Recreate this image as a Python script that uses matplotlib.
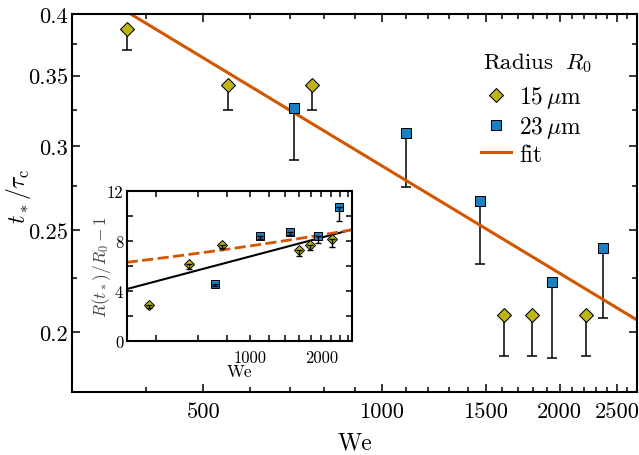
import numpy as np
import matplotlib
matplotlib.use("Agg")
import matplotlib.pyplot as plt
from matplotlib.ticker import FixedLocator, FixedFormatter, NullFormatter
from matplotlib.lines import Line2D

plt.rcParams["font.family"] = "serif"
plt.rcParams["font.serif"] = ["cmr10", "DejaVu Serif"]
plt.rcParams["mathtext.fontset"] = "cm"
plt.rcParams["axes.unicode_minus"] = False

# Main panel data: t_* / tau_c versus We
we_15 = [371, 550, 762, 1609, 1793, 2218]
t_15 = [0.3876, 0.3428, 0.3428, 0.2078, 0.2078, 0.2078]
t_15_err = [0.0178, 0.018, 0.018, 0.0179, 0.0179, 0.0179]

we_23 = [711, 1098, 1465, 1940, 2366]
t_23 = [0.3258, 0.3088, 0.266, 0.2232, 0.2402]
t_23_err = [0.0344, 0.0341, 0.034, 0.0341, 0.0341]

# power-law fit t = A * We^p
fit_prefactor = 2.99
fit_exponent = -0.339

# Inset data: R(t_*)/R_0 - 1
r_15 = [2.93, 6.21, 7.7, 7.3, 7.7, 8.16]
r_15_err = [0.3, 0.4, 0.2, 0.5, 0.4, 0.6]
r_23 = [4.6, 8.4, 8.72, 8.4, 10.72]
r_23_err = [0.2, 0.2, 0.2, 0.5, 1.1]

# inset model curves
solid_a, solid_b = 4.18, 5.0       # a + b*log10(We/300)
dashed_a, dashed_p = 6.32, 0.157   # a * (We/300)^p

x_major = [500, 1000, 1500, 2000, 2500]
x_minor = [300, 400, 600, 700, 800, 900, 1100, 1200, 1300, 1400, 1600, 1700,
           1800, 1900, 2100, 2200, 2300, 2400, 2600, 2700]
y_major = [0.2, 0.25, 0.3, 0.35, 0.4]
y_labels = ["0.2", "0.25", "0.3", "0.35", "0.4"]
y_minor = [0.175, 0.225, 0.275, 0.325, 0.375]

inset_x_major = [1000, 2000]
inset_x_minor = [400, 600, 800, 1200, 1400, 1600, 1800, 2200, 2400, 2600]

c_15 = "#bdb511"
c_23 = "#1b80c1"
c_fit = "#d45500"

fig = plt.figure(figsize=(6.39, 4.56), dpi=100)
ax = fig.add_axes([0.1127, 0.1382, 0.8842, 0.8282])

# main plot
ax.errorbar(we_15, t_15, yerr=[t_15_err, [0] * len(t_15)], fmt="none",
            ecolor="black", elinewidth=1.1, capsize=3.5, capthick=1.1, zorder=2)
ax.errorbar(we_23, t_23, yerr=[t_23_err, [0] * len(t_23)], fmt="none",
            ecolor="black", elinewidth=1.1, capsize=3.5, capthick=1.1, zorder=2)
ax.plot(we_15, t_15, "D", ms=6.8, mfc=c_15, mec="black", mew=0.75, zorder=3)
ax.plot(we_23, t_23, "s", ms=7.2, mfc=c_23, mec="black", mew=0.75, zorder=3)

we_fit = np.geomspace(300, 2700, 100)
ax.plot(we_fit, fit_prefactor * we_fit ** fit_exponent, color=c_fit, lw=2.2, zorder=2)

ax.set_xscale("log")
ax.set_yscale("log")
ax.set_xlim(300, 2700)
ax.set_ylim(0.1755, 0.4)
ax.xaxis.set_major_locator(FixedLocator(x_major))
ax.xaxis.set_major_formatter(FixedFormatter([str(v) for v in x_major]))
ax.xaxis.set_minor_locator(FixedLocator(x_minor))
ax.xaxis.set_minor_formatter(NullFormatter())
ax.yaxis.set_major_locator(FixedLocator(y_major))
ax.yaxis.set_major_formatter(FixedFormatter(y_labels))
ax.yaxis.set_minor_locator(FixedLocator(y_minor))
ax.yaxis.set_minor_formatter(NullFormatter())
ax.tick_params(which="both", direction="in", top=True, right=True, width=1.1,
               labelsize=16.2)
ax.tick_params(which="major", length=6)
ax.tick_params(which="minor", length=3.6)
ax.tick_params(axis="x", pad=7)
ax.tick_params(axis="y", pad=3)
for s in ax.spines.values():
    s.set_linewidth(1.5)
ax.set_xlabel("We", fontsize=17, labelpad=7)
ax.set_ylabel(r"$t_*/\tau_\mathrm{c}$", fontsize=17)
ax.yaxis.set_label_coords(-0.069, 0.52)

# legend: title drawn as its own text for tighter control of spacing
fig.text(0.756, 0.8607, r"Radius $\;R_0$", fontsize=16.5, ha="left", va="center")
handles = [
    Line2D([], [], ls="none", marker="D", ms=6.8, mfc=c_15, mec="black", mew=0.75),
    Line2D([], [], ls="none", marker="s", ms=7.2, mfc=c_23, mec="black", mew=0.75),
    Line2D([], [], color=c_fit, lw=2.2),
]
leg = ax.legend(handles, [r"15$\,\mu$m", r"23$\,\mu$m", "fit"],
                loc="upper left", bbox_to_anchor=(0.724, 0.8155),
                frameon=False, fontsize=17, handlelength=1.27,
                handletextpad=0.34, labelspacing=0.16, borderpad=0,
                borderaxespad=0)

# inset
axin = fig.add_axes([0.1983, 0.2493, 0.353, 0.3289])
axin.errorbar(we_15, r_15, yerr=[r_15_err, [0] * len(r_15)], fmt="none",
              ecolor="black", elinewidth=1.0, capsize=2.5, capthick=1.0, zorder=4)
axin.errorbar(we_23, r_23, yerr=[r_23_err, [0] * len(r_23)], fmt="none",
              ecolor="black", elinewidth=1.0, capsize=2.5, capthick=1.0, zorder=4)
axin.plot(we_15, r_15, "D", ms=5.3, mfc=c_15, mec="black", mew=0.7, zorder=3)
axin.plot(we_23, r_23, "s", ms=6.2, mfc=c_23, mec="black", mew=0.7, zorder=3)

axin.plot(we_fit, solid_a + solid_b * np.log10(we_fit / 300), color="black",
          lw=1.5, zorder=2)
axin.plot(we_fit, dashed_a * (we_fit / 300) ** dashed_p, color=c_fit, lw=2.0,
          dashes=(4, 1.6), zorder=2)

axin.set_xscale("log")
axin.set_xlim(300, 2700)
axin.set_ylim(0, 12)
axin.xaxis.set_major_locator(FixedLocator(inset_x_major))
axin.xaxis.set_major_formatter(FixedFormatter(["1000", "2000"]))
axin.xaxis.set_minor_locator(FixedLocator(inset_x_minor))
axin.xaxis.set_minor_formatter(NullFormatter())
axin.set_yticks([0, 4, 8, 12])
axin.set_yticks([2, 6, 10], minor=True)
axin.tick_params(which="both", direction="in", top=True, right=True, width=1.1,
                 labelsize=12)
axin.tick_params(which="major", length=4.5)
axin.tick_params(which="minor", length=4.5)
axin.tick_params(axis="x", pad=6)
axin.tick_params(axis="y", pad=2.5)
for s in axin.spines.values():
    s.set_linewidth(1.5)
axin.set_xlabel("We", fontsize=12.5, labelpad=-1)
axin.set_ylabel(r"$R(t_*)/R_0-1$", fontsize=12.5, color="#444444")
axin.yaxis.set_label_coords(-0.062, 0.5)

fig.savefig("out.png", dpi=100)
